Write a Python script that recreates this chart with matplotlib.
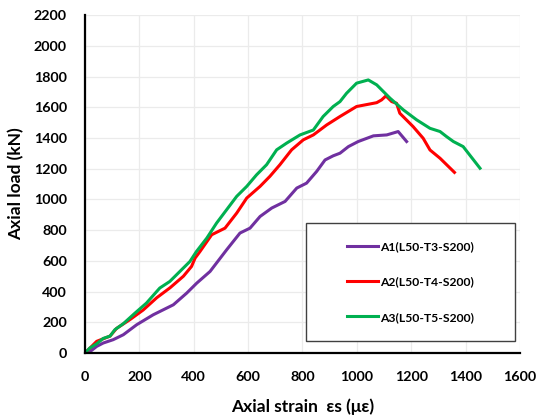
import numpy as np
import matplotlib.pyplot as plt
from matplotlib.patches import Rectangle

plt.rcParams['font.family'] = ['Lato', 'DejaVu Sans']
plt.rcParams['font.weight'] = 'bold'

#%% data
a1_strain = [12, 43, 67, 104, 141, 190, 251, 325, 374, 411, 460, 521, 570, 607, 644,
             687, 736, 779, 815, 852, 883, 913, 938, 969, 1005, 1061, 1110, 1152, 1183]
a1_load = [0, 43, 65, 87, 119, 184, 249, 314, 390, 455, 531, 672, 781, 813, 889,
           944, 987, 1074, 1106, 1182, 1257, 1284, 1301, 1344, 1377, 1414, 1420, 1442, 1377]

a2_strain = [0, 43, 92, 116, 165, 214, 264, 313, 362, 392, 405, 423, 466, 515, 558,
             595, 644, 680, 717, 760, 803, 840, 889, 938, 999, 1073, 1091, 1107, 1128,
             1146, 1158, 1207, 1244, 1269, 1306, 1359]
a2_load = [0, 76, 110, 160, 217, 280, 360, 425, 500, 564, 618, 661, 770, 813, 911,
           1009, 1085, 1150, 1226, 1323, 1388, 1420, 1485, 1540, 1605, 1630, 1648, 1674, 1637,
           1626, 1561, 1474, 1398, 1322, 1268, 1176]

a3_strain = [0, 18, 43, 67, 92, 110, 141, 184, 226, 275, 312, 349, 386, 410, 448, 484,
             521, 558, 595, 631, 668, 705, 742, 791, 840, 876, 913, 938, 962, 999, 1042,
             1073, 1122, 1171, 1220, 1269, 1306, 1330, 1355, 1391, 1453]
a3_load = [0, 33, 60, 95, 110, 152, 191, 260, 325, 423, 466, 531, 596, 661, 748, 846,
           933, 1020, 1085, 1160, 1226, 1323, 1367, 1420, 1452, 1540, 1605, 1637, 1691, 1757, 1778,
           1746, 1659, 1583, 1518, 1463, 1442, 1409, 1377, 1344, 1203]

labels = ["A1(L50-T3-S200)", "A2(L50-T4-S200)", "A3(L50-T5-S200)"]
colors = ["#7030A0", "#FF0000", "#00B050"]

#%% plot
fig = plt.figure(figsize=(5.39, 4.20), dpi=100)
ax = fig.add_axes([0.1577, 0.1595, 0.807, 0.8045])

series = [(a1_strain, a1_load), (a2_strain, a2_load), (a3_strain, a3_load)]
for (x, y), lab, col in zip(series, labels, colors):
    ax.plot(x, y, color=col, lw=2.2, label=lab, solid_joinstyle='round')

ax.set_xlim(0, 1600)
ax.set_ylim(0, 2200)
ax.set_xticks(np.arange(0, 1601, 200))
ax.set_yticks(np.arange(0, 2201, 200))
ax.grid(True, color="#EBEBEB", lw=0.9)
ax.set_axisbelow(True)

for side in ["top", "right"]:
    ax.spines[side].set_visible(False)
for side in ["left", "bottom"]:
    ax.spines[side].set_linewidth(1.6)
    ax.spines[side].set_color("black")

ax.tick_params(axis='x', length=0, labelsize=10.3, pad=13)
ax.tick_params(axis='y', length=0, labelsize=10.3, pad=13)
for t in ax.get_xticklabels() + ax.get_yticklabels():
    t.set_fontweight('bold')

ax.set_xlabel("Axial strain  εs (με)", fontsize=12.5, fontweight='bold', labelpad=11)
ax.set_ylabel("Axial load (kN)", fontsize=12.5, fontweight='bold', labelpad=7)

# legend box
ax.add_patch(Rectangle((0.508, 0.0355), 0.481, 0.349, transform=ax.transAxes,
                       fill=True, facecolor="white", edgecolor="#404040", lw=1.0, zorder=5))
leg = ax.legend(loc='center', bbox_to_anchor=(0.7485, 0.21), frameon=False,
                fontsize=8.7, handlelength=2.6, handletextpad=0.15, labelspacing=2.0)
leg.set_zorder(6)
for t in leg.get_texts():
    t.set_fontweight('bold')

fig.savefig("out.png", dpi=100)
